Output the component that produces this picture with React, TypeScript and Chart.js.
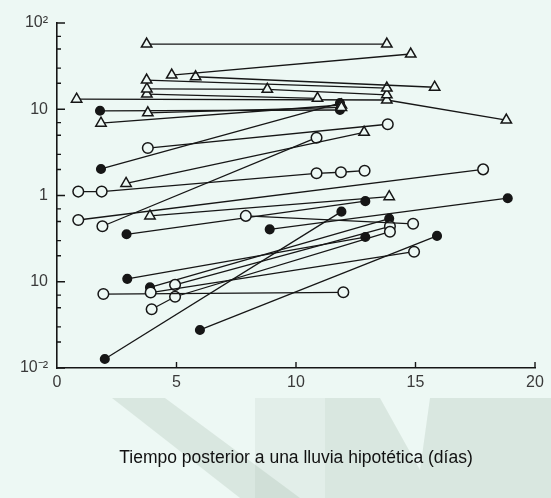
import React, { useEffect, useRef } from "react";
import { Chart, registerables } from "chart.js";

Chart.register(...registerables);

// ---- axis ticks ----
const xTickValues = [0, 5, 10, 15, 20];
const yTickValues = [0.01, 0.1, 1, 10, 100];
const yTickLabels = ["10⁻²", "10", "1", "10", "10²"];
const yMinorFactors = [2, 3, 5, 7];
const xTitle = "Tiempo posterior a una lluvia hipotética (días)";

// ---- open triangles: each line = paired x / y arrays ----
const triangleX = [
  [3.75, 13.8],
  [4.8, 14.8],
  [5.8, 15.8],
  [3.75, 13.8],
  [3.76, 8.8, 13.8],
  [3.76, 10.9],
  [0.82, 13.8, 18.8],
  [3.8, 11.9],
  [1.84, 11.9],
  [2.89, 12.85],
  [3.89, 13.9],
];
const triangleY = [
  [57, 57],
  [24.9, 43.7],
  [23.8, 18],
  [21.8, 17.6],
  [17.2, 17, 14.7],
  [15, 13.4],
  [13.1, 12.8, 7.5],
  [9.1, 10.5],
  [6.9, 11.2],
  [1.38, 5.4],
  [0.58, 0.97],
];

// ---- filled circles ----
const filledX = [
  [1.8, 11.84],
  [1.84, 11.84],
  [2.91, 12.9],
  [8.9, 18.86],
  [2.94, 12.9],
  [3.89, 13.9],
  [5.98, 15.9],
  [2.0, 11.9],
];
const filledY = [
  [9.6, 9.8],
  [2.03, 11.8],
  [0.355, 0.86],
  [0.405, 0.93],
  [0.108, 0.33],
  [0.086, 0.54],
  [0.0276, 0.34],
  [0.0127, 0.65],
];

// ---- open circles ----
const openX = [
  [3.8, 13.84],
  [1.9, 10.86],
  [0.89, 1.87, 10.86, 11.88, 12.87],
  [0.89, 17.83],
  [7.9, 14.9],
  [3.92, 14.94],
  [1.94, 11.98],
  [3.96, 4.94, 13.93],
  [4.94, 13.93],
];
const openY = [
  [3.55, 6.7],
  [0.44, 4.68],
  [1.11, 1.11, 1.81, 1.86, 1.94],
  [0.52, 2.01],
  [0.58, 0.47],
  [0.075, 0.223],
  [0.072, 0.0755],
  [0.048, 0.067, 0.38],
  [0.092, 0.44],
];

const INK = "#161616";
const BG = "#edf8f4";

function makeSets(xs: number[][], ys: number[][], kind: string) {
  return xs.map((xr, i) => ({
    label: kind + " " + (i + 1),
    data: xr.map((x, j) => ({ x, y: ys[i][j] })),
    showLine: true,
    borderColor: INK,
    borderWidth: 1.3,
    pointStyle: kind === "tri" ? "triangle" : "circle",
    pointRadius: kind === "tri" ? 6 : kind === "filled" ? 4.3 : 5.3,
    pointBackgroundColor: kind === "filled" ? INK : BG,
    pointBorderColor: INK,
    pointBorderWidth: 1.5,
  }));
}

const backgroundPlugin = {
  id: "bgPlugin",
  beforeDraw(chart: any) {
    const { ctx, width, height } = chart;
    ctx.save();
    ctx.fillStyle = BG;
    ctx.fillRect(0, 0, width, height);
    // faint scanned watermark shapes
    ctx.fillStyle = "rgba(140,165,145,0.2)";
    ctx.beginPath();
    ctx.moveTo(112, 398);
    ctx.lineTo(165, 398);
    ctx.lineTo(300, 498);
    ctx.lineTo(240, 498);
    ctx.closePath();
    ctx.fill();
    ctx.fillStyle = "rgba(140,165,145,0.11)";
    ctx.fillRect(255, 398, 70, 100);
    ctx.fillStyle = "rgba(140,165,145,0.2)";
    ctx.beginPath();
    ctx.moveTo(325, 398);
    ctx.lineTo(380, 398);
    ctx.lineTo(420, 470);
    ctx.lineTo(430, 398);
    ctx.lineTo(551, 398);
    ctx.lineTo(551, 498);
    ctx.lineTo(325, 498);
    ctx.closePath();
    ctx.fill();
    ctx.restore();
  },
};

const ticksPlugin = {
  id: "inwardTicks",
  beforeDatasetsDraw(chart: any) {
    const { ctx } = chart;
    const xs = chart.scales.x;
    const ys = chart.scales.y;
    const left = xs.left;
    const bottom = ys.bottom;
    ctx.save();
    ctx.strokeStyle = INK;
    ctx.lineWidth = 1.4;
    ctx.beginPath();
    xTickValues.forEach((v) => {
      if (v === 0) return;
      const px = xs.getPixelForValue(v);
      ctx.moveTo(px, bottom);
      ctx.lineTo(px, bottom - 6);
    });
    yTickValues.forEach((v) => {
      const py = ys.getPixelForValue(v);
      ctx.moveTo(left, py);
      ctx.lineTo(left + 8, py);
    });
    yTickValues.slice(0, -1).forEach((d) => {
      yMinorFactors.forEach((f) => {
        const py = ys.getPixelForValue(d * f);
        ctx.moveTo(left, py);
        ctx.lineTo(left + 4, py);
      });
    });
    ctx.stroke();
    ctx.restore();
  },
};

export default function App() {
  const ref = useRef<HTMLCanvasElement | null>(null);
  useEffect(() => {
    document.body.style.margin = "0";
    document.body.style.background = BG;
    if (!ref.current) return;
    const datasets = [
      ...makeSets(triangleX, triangleY, "tri"),
      ...makeSets(openX, openY, "open"),
      ...makeSets(filledX, filledY, "filled"),
    ];
    const chart = new Chart(ref.current, {
      type: "scatter",
      data: { datasets },
      options: {
        animation: false,
        responsive: false,
        layout: { padding: { top: 23, right: 16, left: 0, bottom: 0 } },
        plugins: { legend: { display: false }, tooltip: { enabled: false } },
        scales: {
          x: {
            type: "linear",
            min: 0,
            max: 20,
            grid: { display: false, drawTicks: false },
            border: { display: true, color: INK, width: 1.6 },
            afterBuildTicks: (s: any) => {
              s.ticks = xTickValues.map((v) => ({ value: v }));
            },
            afterFit: (s: any) => {
              s.height = 130;
            },
            ticks: {
              color: "#3a3a3a",
              font: { family: "Liberation Sans", size: 16 },
              padding: 5,
              maxRotation: 0,
              callback: (v: any) => String(v),
            },
            title: {
              display: true,
              text: xTitle,
              color: "#111",
              font: { family: "Liberation Sans", size: 17.5 },
              padding: { top: 0, bottom: 29 },
            },
          },
          y: {
            type: "logarithmic",
            min: 0.01,
            max: 100,
            grid: { display: false, drawTicks: false },
            border: { display: true, color: INK, width: 1.6 },
            afterBuildTicks: (s: any) => {
              s.ticks = yTickValues.map((v) => ({ value: v }));
            },
            afterFit: (s: any) => {
              s.width = 57;
            },
            ticks: {
              color: "#3a3a3a",
              font: { family: "Liberation Sans", size: 16 },
              padding: 9,
              callback: (_v: any, i: number) => yTickLabels[i],
            },
          },
        },
      },
      plugins: [backgroundPlugin, ticksPlugin],
    } as any);
    return () => chart.destroy();
  }, []);
  return (
    <div style={{ width: 551, height: 498 }}>
      <canvas ref={ref} width={551} height={498} />
    </div>
  );
}
